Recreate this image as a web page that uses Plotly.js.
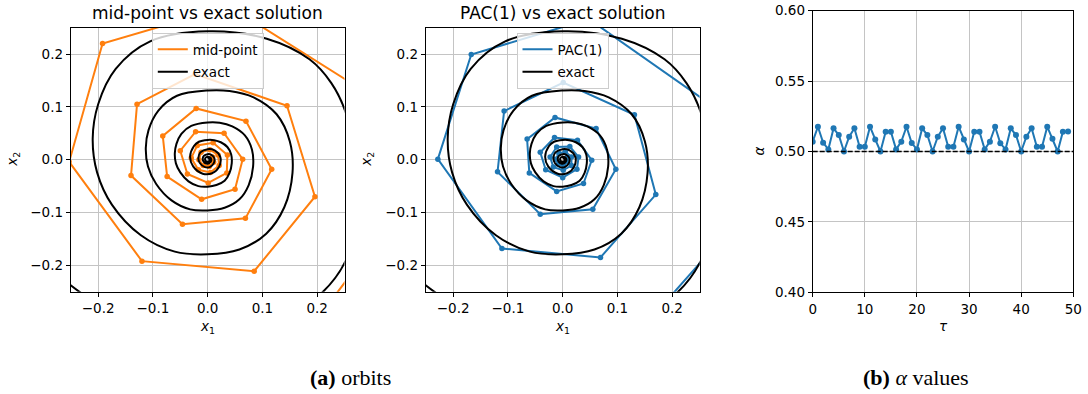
<!DOCTYPE html>
<html>
<head>
<meta charset="utf-8">
<script src="https://cdn.plot.ly/plotly-3.0.1.min.js"></script>
<style>
  html, body { margin: 0; padding: 0; background: #ffffff; }
  #chart { width: 1088px; height: 394px; }
</style>
</head>
<body>
<div id="chart"></div>
<script>
// ---------------- data ----------------
// exact solution (spiral)
const exactX = [-0.40, -0.37, -0.30, -0.22, -0.11, 0.00, 0.11, 0.20, 0.255, 0.272, 0.270, 0.252, 0.226, 0.186, 0.108, 0.0,
  -0.105, -0.168, -0.200, -0.210, -0.202, -0.175, -0.122, -0.060, 0.0, 0.058, 0.107, 0.140, 0.155, 0.150, 0.126, 0.084, 0.040, 0.0,
  -0.056, -0.090, -0.108, -0.113, -0.109, -0.094, -0.066, -0.032, 0.0, 0.031, 0.058, 0.075, 0.083, 0.081, 0.068, 0.045, 0.022, 0.0,
  -0.030, -0.048, -0.057, -0.060, -0.058, -0.050, -0.035, -0.017, 0.0, 0.016, 0.031, 0.040, 0.044, 0.043, 0.036, 0.024, 0.012, 0.0,
  -0.016, -0.025, -0.032, -0.0265, -0.009, 0.0085, 0.021, 0.023, 0.0127, 0.0,
  -0.0133, -0.017, -0.014, -0.0048, 0.0045, 0.011, 0.0122, 0.0067, 0.0,
  -0.0070, -0.0090, -0.0074, -0.0025, 0.0024, 0.0058, 0.0065, 0.0036, 0.0,
  -0.0037, -0.0048, -0.0039, -0.0013, 0.0013, 0.0031, 0.0034, 0.0019, 0.0];
const exactY = [0.06, -0.08, -0.19, -0.26, -0.315, -0.335, -0.31, -0.26, -0.185, -0.09, 0.00, 0.09, 0.145, 0.190, 0.229, 0.243,
  0.224, 0.172, 0.105, 0.040, -0.024, -0.085, -0.143, -0.174, -0.179, -0.170, -0.140, -0.090, -0.025, 0.035, 0.086, 0.118, 0.130, 0.131,
  0.121, 0.093, 0.056, 0.022, -0.013, -0.046, -0.077, -0.094, -0.096, -0.091, -0.075, -0.048, -0.013, 0.019, 0.046, 0.063, 0.070, 0.0705,
  0.064, 0.049, 0.030, 0.012, -0.007, -0.024, -0.041, -0.050, -0.051, -0.048, -0.040, -0.025, -0.007, 0.010, 0.024, 0.033, 0.037, 0.0375,
  0.034, 0.026, 0.006, -0.0127, -0.0265, -0.0254, -0.013, 0.0053, 0.0175, 0.0199,
  0.0138, 0.0032, -0.0067, -0.014, -0.0135, -0.0069, 0.0028, 0.0093, 0.0105,
  0.0073, 0.0017, -0.0036, -0.0074, -0.0071, -0.0037, 0.0015, 0.0049, 0.0056,
  0.0039, 0.0009, -0.0019, -0.0039, -0.0038, -0.0019, 0.0008, 0.0026, 0.003];

// mid-point iterates
const midX = [0.15, 0.34, 0.27, 0.04, -0.192, -0.253, -0.120, 0.085, 0.196, 0.145, -0.023, -0.129, -0.140, -0.046, 0.069, 0.117,
  0.070, -0.021, -0.082, -0.074, -0.011, 0.050, 0.064, 0.030, -0.022, -0.050, -0.037, 0.001, 0.035, 0.036,
  0.010, -0.019, -0.030, -0.017, 0.005, 0.021, 0.019, 0.004, -0.012, -0.016, -0.008, 0.003, 0.011, 0.009];
const midY = [-0.37, -0.11, 0.14, 0.29, 0.220, -0.004, -0.192, -0.211, -0.070, 0.102, 0.162, 0.105, -0.030, -0.122, -0.111, -0.018,
  0.073, 0.097, 0.045, -0.032, -0.075, -0.056, 0.001, 0.050, 0.053, 0.017, -0.027, -0.044, -0.025, 0.009,
  0.032, 0.027, 0.003, -0.019, -0.024, -0.011, 0.009, 0.019, 0.014, 0.000, -0.011, -0.013, -0.005, 0.005];

// PAC(1) iterates
const pacX = [0.125, 0.314, 0.275, 0.048, -0.167, -0.228, -0.111, 0.069, 0.170, 0.131, 0.001, -0.107, -0.119, -0.041, 0.055, 0.097,
  0.061, -0.014, -0.065, -0.061, -0.011, 0.038, 0.053, 0.027, -0.015, -0.041, -0.031, 0.000, 0.026, 0.029,
  0.013, -0.011, -0.023, -0.017, 0.001, 0.016, 0.016, 0.005, -0.007, -0.013, -0.008, 0.002, 0.009, 0.008];
const pacY = [-0.343, -0.121, 0.101, 0.266, 0.199, 0.001, -0.168, -0.185, -0.066, 0.085, 0.146, 0.092, -0.023, -0.103, -0.094, -0.018,
  0.059, 0.080, 0.039, -0.025, -0.060, -0.045, -0.001, 0.037, 0.042, 0.014, -0.019, -0.034, -0.018, 0.005,
  0.025, 0.024, 0.005, -0.014, -0.020, -0.011, 0.005, 0.015, 0.012, 0.001, -0.009, -0.011, -0.004, 0.004];

// alpha values per step tau
const tau = [0,1,2,3,4,5,6,7,8,9,10,11,12,13,14,15,16,17,18,19,20,21,22,23,24,25,26,27,28,29,30,31,32,33,34,35,36,37,38,39,40,41,42,43,44,45,46,47,48,49];
const alpha = [0.507, 0.5176, 0.5063, 0.5015, 0.5165, 0.5117, 0.500, 0.5105, 0.5165, 0.5034,
  0.5034, 0.5176, 0.5086, 0.500, 0.514, 0.514, 0.5015, 0.507, 0.5176, 0.5060,
  0.5015, 0.5165, 0.5117, 0.500, 0.5105, 0.5165, 0.5034, 0.5034, 0.5176, 0.5086,
  0.500, 0.514, 0.514, 0.5015, 0.507, 0.5176, 0.5058, 0.5015, 0.5165, 0.5117,
  0.500, 0.5105, 0.5165, 0.5034, 0.5034, 0.5176, 0.5090, 0.500, 0.514, 0.5142];
const alphaRef = 0.5;

// tick labels / ranges
const orbitRange = [-0.25, 0.25];
const orbitTicks = [-0.2, -0.1, 0.0, 0.1, 0.2];
const tauRange = [0, 50];
const tauTicks = [0, 10, 20, 30, 40, 50];
const alphaRange = [0.40, 0.60];
const alphaTicks = [0.40, 0.45, 0.50, 0.55, 0.60];

// ---------------- style ----------------
const ORANGE = '#ff7f0e', BLUE = '#1f77b4';
const FONT = 'DejaVu Sans, sans-serif';
const W = 1088, H = 394;
const px = v => v / W, py = v => 1 - v / H;

function axisStyle(extra) {
  return Object.assign({
    showline: true, mirror: true, linecolor: '#000', linewidth: 1,
    ticks: 'outside', ticklen: 4, tickwidth: 1, tickcolor: '#000',
    showgrid: true, gridcolor: '#c4c4c4', gridwidth: 1,
    zeroline: false, fixedrange: true,
    tickfont: {family: FONT, size: 13.5, color: '#000'}
  }, extra);
}

const traces = [
  {x: midX, y: midY, xaxis: 'x', yaxis: 'y', mode: 'lines', name: 'mid-point', legend: 'legend', legendgroup: 'a',
   line: {color: ORANGE, width: 2}},
  {x: midX, y: midY, xaxis: 'x', yaxis: 'y', mode: 'markers', showlegend: false,
   marker: {color: ORANGE, size: 5.5}},
  {x: exactX, y: exactY, xaxis: 'x', yaxis: 'y', mode: 'lines', name: 'exact', legend: 'legend', legendgroup: 'b',
   line: {color: '#000', width: 2, shape: 'spline', smoothing: 1}},

  {x: pacX, y: pacY, xaxis: 'x2', yaxis: 'y2', mode: 'lines', name: 'PAC(1)', legend: 'legend2', legendgroup: 'c',
   line: {color: BLUE, width: 2}},
  {x: pacX, y: pacY, xaxis: 'x2', yaxis: 'y2', mode: 'markers', showlegend: false,
   marker: {color: BLUE, size: 5.5}},
  {x: exactX, y: exactY, xaxis: 'x2', yaxis: 'y2', mode: 'lines', name: 'exact', legend: 'legend2', legendgroup: 'd',
   line: {color: '#000', width: 2, shape: 'spline', smoothing: 1}},

  {x: tau, y: alpha, xaxis: 'x3', yaxis: 'y3', mode: 'lines+markers', showlegend: false,
   line: {color: BLUE, width: 2}, marker: {color: BLUE, size: 6}}
];

const legendStyle = {
  bgcolor: 'rgba(255,255,255,0.8)', bordercolor: '#cccccc', borderwidth: 1,
  font: {family: FONT, size: 13.5, color: '#000'},
  xanchor: 'center', yanchor: 'top', tracegroupgap: 2, itemwidth: 30
};

const ann = (text, x, y, opts) => Object.assign({
  text, x: px(x), y: py(y), xref: 'paper', yref: 'paper', showarrow: false,
  xanchor: 'center', yanchor: 'middle', font: {family: FONT, size: 13.5, color: '#000'}
}, opts || {});

const layout = {
  width: W, height: H,
  margin: {l: 0, r: 0, t: 0, b: 0},
  paper_bgcolor: '#fff', plot_bgcolor: '#fff',
  showlegend: true,
  xaxis: axisStyle({domain: [px(70.8), px(344.5)], range: orbitRange, tickvals: orbitTicks, tickformat: '.1f', anchor: 'y'}),
  yaxis: axisStyle({domain: [py(291.8), py(27.6)], range: orbitRange, tickvals: orbitTicks, tickformat: '.1f', anchor: 'x'}),
  xaxis2: axisStyle({domain: [px(425.8), px(699.6)], range: orbitRange, tickvals: orbitTicks, tickformat: '.1f', anchor: 'y2'}),
  yaxis2: axisStyle({domain: [py(291.8), py(27.6)], range: orbitRange, tickvals: orbitTicks, tickformat: '.1f', anchor: 'x2'}),
  xaxis3: axisStyle({domain: [px(812.7), px(1073.3)], range: tauRange, tickvals: tauTicks, anchor: 'y3'}),
  yaxis3: axisStyle({domain: [py(292.3), py(10.7)], range: alphaRange, tickvals: alphaTicks, tickformat: '.2f', anchor: 'x3'}),
  legend: Object.assign({x: px(207.8), y: py(33)}, legendStyle),
  legend2: Object.assign({x: px(562.5), y: py(33)}, legendStyle),
  shapes: [
    {type: 'line', xref: 'x3 domain', yref: 'y3', x0: 0, x1: 1, y0: alphaRef, y1: alphaRef,
     line: {color: '#000', width: 1.5, dash: '5px,2px'}, layer: 'above'}
  ],
  annotations: [
    ann('mid-point vs exact solution', 207.7, 13.5, {font: {family: FONT, size: 17, color: '#000'}}),
    ann('PAC(1) vs exact solution', 562.7, 13.5, {font: {family: FONT, size: 17, color: '#000'}}),
    ann('<i>x</i><sub>2</sub>', 13, 159.7, {textangle: -90}),
    ann('<i>x</i><sub>2</sub>', 367, 159.7, {textangle: -90}),
    ann('<i>x</i><sub>1</sub>', 207.7, 327),
    ann('<i>x</i><sub>1</sub>', 562.7, 327),
    ann('<i>α</i>', 758, 151.5, {textangle: -90}),
    ann('<i>τ</i>', 943, 326),
    ann('<b>(a)</b> orbits', 350, 377, {font: {family: 'Liberation Serif, serif', size: 22, color: '#000'}}),
    ann('<b>(b)</b> <i>α</i> values', 916, 377, {font: {family: 'Liberation Serif, serif', size: 22, color: '#000'}})
  ]
};

Plotly.newPlot('chart', traces, layout, {staticPlot: true, displayModeBar: false});
</script>
</body>
</html>
